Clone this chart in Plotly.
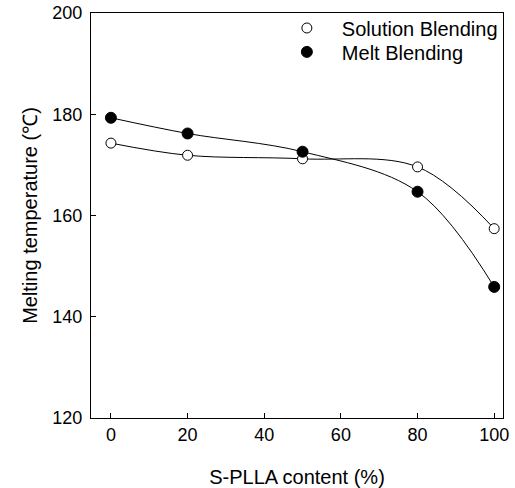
import plotly.graph_objects as go

content = [0, 20, 50, 80, 100]
solution_blending = [174.3, 171.9, 171.2, 169.6, 157.4]
melt_blending = [179.3, 176.2, 172.6, 164.7, 145.9]

x_ticks = [0, 20, 40, 60, 80, 100]
y_ticks = [120, 140, 160, 180, 200]

FONT = "Liberation Sans, Arial, Helvetica, sans-serif"

fig = go.Figure()

# smooth connecting curves
for ys in (solution_blending, melt_blending):
    fig.add_trace(go.Scatter(
        x=content, y=ys, mode="lines",
        line=dict(color="black", width=1, shape="spline", smoothing=1.0),
        showlegend=False, hoverinfo="skip"))

fig.add_trace(go.Scatter(
    x=content, y=solution_blending, mode="markers", name="Solution Blending",
    legend="legend",
    marker=dict(symbol="circle", size=10, color="white",
                line=dict(color="black", width=1))))
fig.add_trace(go.Scatter(
    x=content, y=melt_blending, mode="markers", name="Melt Blending",
    legend="legend2",
    marker=dict(symbol="circle", size=11, color="black",
                line=dict(color="black", width=1))))

leg_common = dict(xanchor="left", yanchor="middle",
                  bgcolor="rgba(0,0,0,0)", borderwidth=0,
                  font=dict(size=20, family=FONT), itemwidth=60)

fig.update_layout(
    width=515, height=488,
    margin=dict(l=91, r=12, t=13, b=70, autoexpand=False),
    paper_bgcolor="white", plot_bgcolor="white",
    font=dict(family=FONT, color="black", size=18),
    legend=dict(x=0.439, y=0.963, **leg_common),
    legend2=dict(x=0.439, y=0.904, **leg_common),
    xaxis=dict(range=[-5.2, 102.3], tickvals=x_ticks, automargin=False,
               ticks="inside", ticklen=5, tickcolor="black",
               showline=True, linecolor="black", linewidth=1, mirror=True,
               showgrid=False, zeroline=False,
               tickfont=dict(size=18),
               title=dict(text="S-PLLA content (%)", font=dict(size=20),
                          standoff=28)),
    yaxis=dict(range=[120, 200], tickvals=y_ticks, automargin=False,
               ticks="inside", ticklen=5, tickcolor="black",
               showline=True, linecolor="black", linewidth=1, mirror=True,
               showgrid=False, zeroline=False,
               tickfont=dict(size=18), ticklabelstandoff=4,
               title=dict(text="Melting temperature (℃)", font=dict(size=20),
                          standoff=9)),
)

fig.write_html(
    "out.html",
    config={"displayModeBar": False},
    post_script="document.body.style.margin='0';"
                "document.body.style.overflow='hidden';")
